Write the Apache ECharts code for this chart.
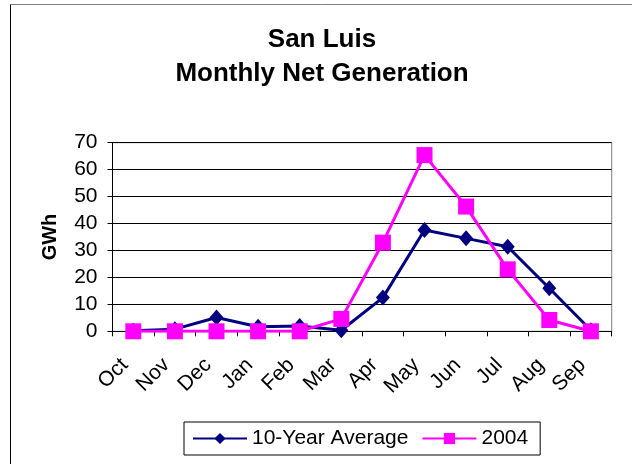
<!DOCTYPE html>
<html>
<head>
<meta charset="utf-8">
<script src="https://cdn.jsdelivr.net/npm/echarts@6/dist/echarts.min.js"></script>
<style>
html,body{margin:0;padding:0;background:#fff;}
#c{width:632px;height:464px;}
</style>
</head>
<body>
<div id="c"></div>
<script>
var months = ['Oct','Nov','Dec','Jan','Feb','Mar','Apr','May','Jun','Jul','Aug','Sep'];
var avg10 = [0.2, 0.8, 5.1, 1.7, 2.0, 0.4, 12.5, 37.6, 34.5, 31.4, 16.0, 0.4];
var y2004 = [0, 0, 0, 0, 0, 4.6, 32.9, 65.4, 46.3, 23.0, 4.2, 0];
var yTicks = [0, 10, 20, 30, 40, 50, 60, 70];

var FONT = 'Liberation Sans, Arial, sans-serif';
var chart = echarts.init(document.getElementById('c'), null, {renderer: 'canvas'});
chart.setOption({
  backgroundColor: '#fff',
  animation: false,
  textStyle: {fontFamily: FONT},
  title: {
    text: 'San Luis\nMonthly Net Generation',
    left: 317, top: 18, textAlign: 'center',
    textStyle: {fontFamily: FONT, fontSize: 26, fontWeight: 'bold', color: '#000', lineHeight: 34}
  },
  graphic: [
    {type: 'line', shape: {x1: 10.5, y1: 4.5, x2: 640, y2: 4.5}, style: {stroke: '#808080', lineWidth: 1}},
    {type: 'line', shape: {x1: 10.5, y1: 4.5, x2: 10.5, y2: 470}, style: {stroke: '#000', lineWidth: 1}}
  ],
  legend: {
    left: 184, top: 422,
    padding: [6, 12, 6, 8],
    itemGap: 13, itemWidth: 54, itemHeight: 14,
    borderColor: '#000', borderWidth: 1,
    lineStyle: {width: 2},
    textStyle: {fontFamily: FONT, fontSize: 21, color: '#000'},
    data: ['10-Year Average', '2004']
  },
  grid: {left: 112.5, right: 20.3, top: 142.7, bottom: 132.7, show: true, borderColor: '#808080', borderWidth: 1, backgroundColor: 'transparent'},
  xAxis: {
    type: 'category', data: months, boundaryGap: true,
    axisLine: {lineStyle: {color: '#000', width: 1}},
    axisTick: {show: true, length: 5, lineStyle: {color: '#000'}},
    axisLabel: {rotate: 45, fontSize: 21, color: '#000', margin: 22, padding: [0, 12, 0, 0], fontFamily: FONT},
    splitLine: {show: false}
  },
  yAxis: {
    type: 'value', min: yTicks[0], max: yTicks[yTicks.length - 1], interval: 10,
    name: 'GWh', nameLocation: 'middle', nameGap: 52, nameRotate: 90,
    nameTextStyle: {fontFamily: FONT, fontSize: 20, fontWeight: 'bold', color: '#000'},
    axisLine: {show: true, lineStyle: {color: '#000', width: 1}},
    axisTick: {show: true, length: 5, lineStyle: {color: '#000'}},
    axisLabel: {fontSize: 21, color: '#000', margin: 15, fontFamily: FONT},
    splitLine: {show: true, lineStyle: {color: '#000', width: 1}}
  },
  series: [
    {
      name: '10-Year Average', type: 'line', data: avg10,
      symbol: 'diamond', symbolSize: [14, 16], showAllSymbol: true,
      lineStyle: {color: '#000080', width: 3},
      itemStyle: {color: '#000080'},
      z: 2
    },
    {
      name: '2004', type: 'line', data: y2004,
      symbol: 'rect', symbolSize: 16, showAllSymbol: true,
      lineStyle: {color: '#FF00FF', width: 3},
      itemStyle: {color: '#FF00FF'},
      z: 3
    }
  ]
});
</script>
</body>
</html>
